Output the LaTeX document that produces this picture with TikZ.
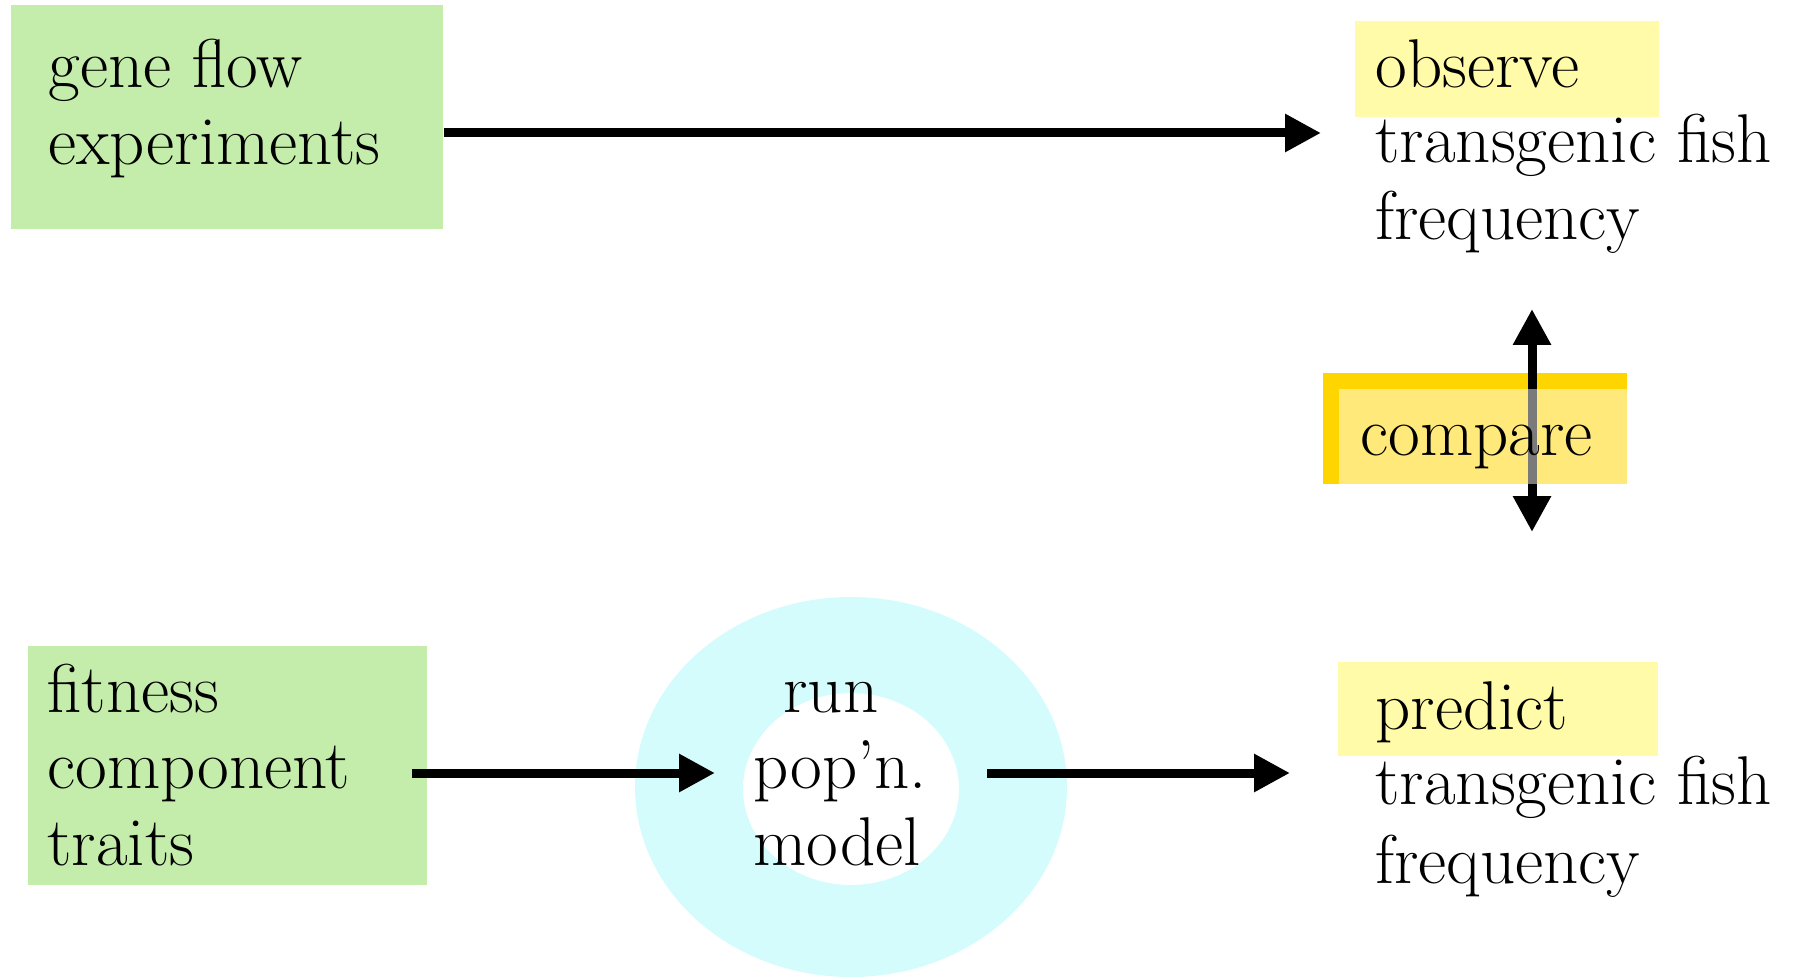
\documentclass[tikz,border=0pt]{standalone}
\usetikzlibrary{arrows.meta}
\definecolor{boxgreen}{HTML}{C4ECAB}
\definecolor{hilite}{HTML}{FFFBA8}
\definecolor{ringcyan}{HTML}{D4FCFC}
\definecolor{gold}{HTML}{FFD500}
\begin{document}
\begin{tikzpicture}[x=0.5pt,y=-0.5pt,
  lbl/.style={inner sep=0pt, anchor=base west, font=\fontsize{34.5}{38.5}\selectfont},
  arr/.style={line width=4.5pt, -{Triangle[length=18pt,width=18pt]}},
  dblarr/.style={line width=4.5pt, {Triangle[length=18pt,width=18pt]}-{Triangle[length=18pt,width=18pt]}},
  panel/.style={fill=boxgreen, inner sep=0pt, anchor=north west}]
\useasboundingbox (0,0) rectangle (1809,978);

% input panels
\node (gfbox) [panel, minimum width=216pt, minimum height=112pt] at (11,5) {};
\node (gf1) [lbl] at (48,88) {gene flow};
\node (gf2) [lbl] at (48,165) {experiments};

\node (fcbox) [panel, minimum width=199.5pt, minimum height=119.5pt] at (28,646) {};
\node (fc1) [lbl] at (47,712) {fitness};
\node (fc2) [lbl] at (47,788) {component};
\node (fc3) [lbl] at (47,865) {traits};

% population model ring
\fill[ringcyan, even odd rule] (851,787) ellipse [x radius=108pt, y radius=95pt]
  (851,789) ellipse [x radius=54pt, y radius=48pt];
\node (pm1) [lbl] at (783,712) {run};
\node (pm2) [lbl] at (753,788) {pop'n.};
\node (pm3) [lbl] at (753,865) {model};

% observed frequency
\fill[hilite] (1355,21) rectangle (1659,117);
\node (ob1) [lbl] at (1375,88) {observe};
\node (ob2) [lbl] at (1375,163) {transgenic fish};
\node (ob3) [lbl] at (1375,240) {frequency};

% predicted frequency
\fill[hilite] (1338,662) rectangle (1658,756);
\node (pr1) [lbl] at (1375,729) {predict};
\node (pr2) [lbl] at (1375,804) {transgenic fish};
\node (pr3) [lbl] at (1375,883) {frequency};

% connector ends
\coordinate (gfOut) at (444,133);
\coordinate (obIn) at (1321,133);
\coordinate (fcOut) at (412,773);
\coordinate (pmIn) at (715,773);
\coordinate (pmOut) at (987,773);
\coordinate (prIn) at (1290,773);
\coordinate (cmpTop) at (1532,309);
\coordinate (cmpBot) at (1532,532);

\draw[arr] (gfOut) -- (obIn);
\draw[arr] (fcOut) -- (pmIn);
\draw[arr] (pmOut) -- (prIn);

% comparison tag over the double arrow
\fill[gold] (1323,373) rectangle (1627,484);
\draw[dblarr] (cmpTop) -- (cmpBot);
\fill[white, opacity=0.48] (1339,389) rectangle (1627,484);
\node (cmp) [lbl] at (1360,455) {compare};
\end{tikzpicture}
\end{document}
